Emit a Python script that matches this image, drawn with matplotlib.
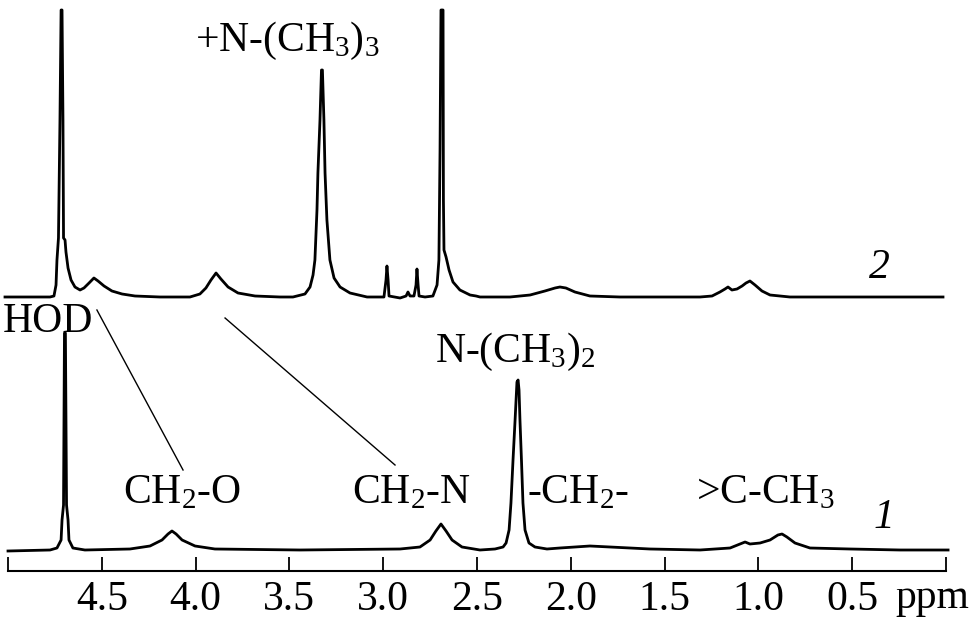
import numpy as np
import matplotlib
matplotlib.use("Agg")
import matplotlib.pyplot as plt

plt.rcParams['font.family'] = ['Liberation Serif', 'DejaVu Serif']
plt.rcParams['mathtext.fontset'] = 'custom'
plt.rcParams['mathtext.rm'] = 'Liberation Serif'
plt.rcParams['mathtext.default'] = 'regular'

# spectrum 1 (lower trace): chemical shift (ppm) and intensity above its baseline
ppm_1 = [5.000, 4.776, 4.739, 4.717, 4.712, 4.704, 4.699, 4.694, 4.688, 4.680,
         4.675, 4.654, 4.590, 4.350, 4.243, 4.179, 4.147, 4.126, 4.104, 4.072,
         4.003, 3.897, 3.444, 2.910, 2.804, 2.750, 2.719, 2.692, 2.665, 2.633,
         2.580, 2.484, 2.404, 2.361, 2.345, 2.329, 2.319, 2.308, 2.297, 2.287,
         2.281, 2.276, 2.271, 2.263, 2.255, 2.244, 2.223, 2.191, 2.127, 2.058,
         1.898, 1.791, 1.578, 1.311, 1.151, 1.098, 1.071, 1.045, 0.991, 0.938,
         0.896, 0.874, 0.848, 0.805, 0.725, 0.512, 0.245, -0.011]
int_1 = [-1, 0, 2, 10, 30, 45, 217, 217, 45, 30,
         10, 2, 0, 1, 4, 10, 16, 19, 16, 10,
         4, 1, 0, 1, 3, 10, 19, 26, 19, 10,
         3, 0, 1, 3, 7, 20, 47, 90, 130, 168,
         170, 160, 130, 90, 47, 20, 7, 3, 1, 2,
         4, 3, 1, 0, 2, 6, 8, 6, 7, 10,
         15, 16, 13, 7, 2, 1, 0, 0]

# spectrum 2 (upper trace)
ppm_2 = [5.016, 4.776, 4.755, 4.744, 4.739, 4.731, 4.723, 4.717, 4.712, 4.707,
         4.704, 4.696, 4.691, 4.680, 4.664, 4.643, 4.616, 4.595, 4.568, 4.542,
         4.520, 4.488, 4.446, 4.392, 4.323, 4.190, 4.030, 3.977, 3.945, 3.918,
         3.891, 3.865, 3.827, 3.774, 3.683, 3.550, 3.481, 3.417, 3.390, 3.374,
         3.364, 3.353, 3.348, 3.337, 3.329, 3.324, 3.316, 3.310, 3.300, 3.284,
         3.262, 3.230, 3.177, 3.086, 2.996, 2.985, 2.980, 2.974, 2.969, 2.910,
         2.878, 2.868, 2.857, 2.836, 2.825, 2.820, 2.814, 2.809, 2.777, 2.735,
         2.713, 2.703, 2.697, 2.692, 2.681, 2.679, 2.676, 2.665, 2.649, 2.628,
         2.591, 2.537, 2.505, 2.484, 2.324, 2.217, 2.138, 2.084, 2.058, 2.026,
         1.978, 1.898, 1.738, 1.311, 1.247, 1.205, 1.178, 1.162, 1.141, 1.114,
         1.087, 1.066, 1.045, 1.018, 0.981, 0.938, 0.832, 0.016]
int_2 = [0, 0, 1, 12, 37, 59, 177, 287, 287, 177,
         59, 57, 45, 29, 17, 10, 7, 9, 14, 19,
         16, 11, 6, 3, 1, 0, 0, 3, 9, 17,
         24, 18, 10, 4, 1, 0, 0, 3, 10, 22,
         37, 87, 124, 177, 227, 227, 177, 124, 77, 37,
         19, 10, 4, 0, 0, 17, 31, 17, 1, -1,
         1, 5, 1, 1, 12, 28, 12, 1, 0, 1,
         12, 37, 147, 287, 287, 97, 47, 40, 27, 15,
         7, 2, 1, 0, 0, 2, 6, 9, 10, 9,
         5, 1, 0, 0, 1, 5, 8, 10, 7, 8,
         11, 14, 16, 12, 6, 2, 0, 0]

base_1 = 21
base_2 = 274

tick_pos = [5.0, 4.5, 4.0, 3.5, 3.0, 2.5, 2.0, 1.5, 1.0, 0.5, 0.0]
tick_lbl = ['', '4.5', '4.0', '3.5', '3.0', '2.5', '2.0', '1.5', '1.0', '0.5', '']

fig = plt.figure(figsize=(9.76, 6.23), dpi=100)
ax = fig.add_axes([8 / 976, 52 / 623, 938 / 976, 571 / 623])

ax.plot(ppm_1, np.array(int_1) + base_1, color='black', lw=2.0, clip_on=False)
ax.plot(ppm_2, np.array(int_2) + base_2, color='black', lw=2.0, clip_on=False)

ax.set_xlim(5.0, 0.0)
ax.set_ylim(0, 571)
for s in ['top', 'left', 'right']:
    ax.spines[s].set_visible(False)
ax.spines['bottom'].set_linewidth(1.5)
ax.set_yticks([])
ax.set_xticks(tick_pos, labels=tick_lbl)
ax.tick_params(axis='x', direction='in', length=10, width=1.3, pad=7, labelsize=30)

fs = 30
ax.text(0.272, -37, 'ppm', fontsize=fs, ha='left', va='baseline', clip_on=False)

# peak assignments
ax.text(4.003, 520, '+N-(CH$_3$)$_3$', fontsize=fs, ha='left', va='baseline')
ax.text(5.027, 239, 'HOD', fontsize=fs, ha='left', va='baseline', clip_on=False)
ax.text(2.724, 209, 'N-(CH$_3$)$_2$', fontsize=fs, ha='left', va='baseline')
ax.text(4.387, 68, 'CH$_2$-O', fontsize=fs, ha='left', va='baseline')
ax.text(3.166, 68, 'CH$_2$-N', fontsize=fs, ha='left', va='baseline')
ax.text(2.233, 68, '-CH$_2$-', fontsize=fs, ha='left', va='baseline')
ax.text(1.333, 68, '>C-CH$_3$', fontsize=fs, ha='left', va='baseline')
ax.text(0.389, 43, '1', fontsize=fs, style='italic', ha='left', va='baseline')
ax.text(0.410, 293, '2', fontsize=fs, style='italic', ha='left', va='baseline')

# connector lines
ax.plot([4.526, 4.067], [261, 101], color='black', lw=1.0)
ax.plot([3.843, 2.937], [253, 106], color='black', lw=1.0)

fig.savefig('out.png', dpi=100)
